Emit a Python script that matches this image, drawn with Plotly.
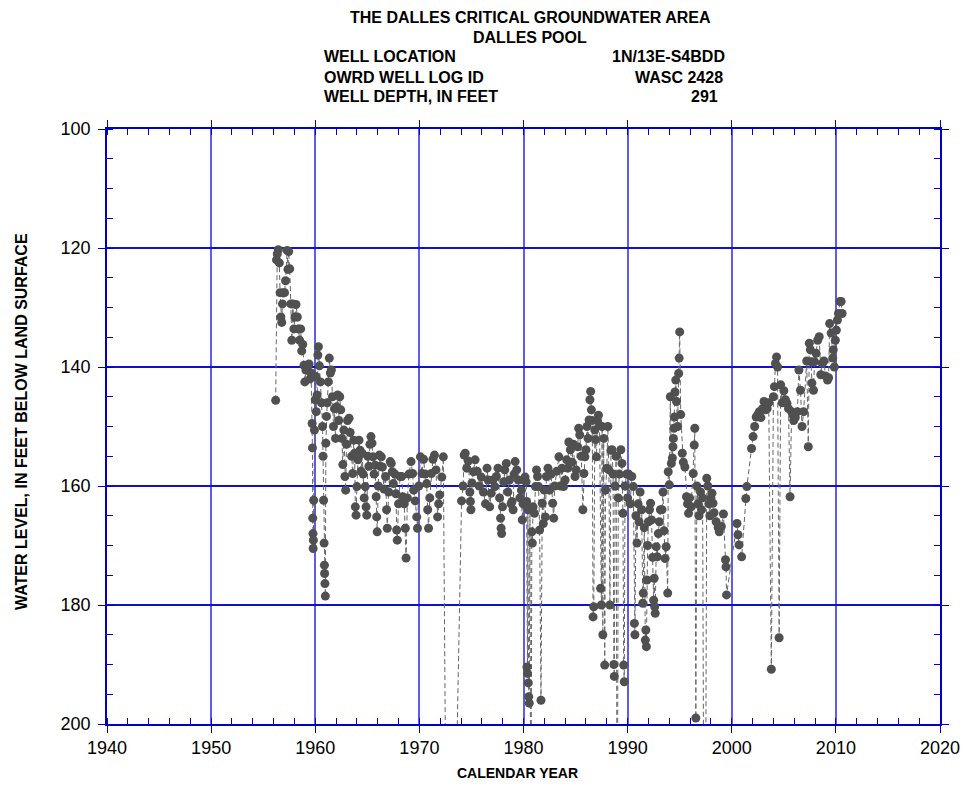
import plotly.graph_objects as go

# ---- data: (calendar year, water level in feet below land surface) ----
obs_1950s = [
    (1956.20,145.6),(1956.28,122.0),(1956.35,121.0),(1956.45,120.3),(1956.55,122.5),(1956.62,127.5),
    (1956.70,131.6),(1956.78,132.5),(1956.85,129.4),(1956.95,127.5),(1957.05,127.5),(1957.15,125.5),
    (1957.30,120.4),(1957.38,123.6),(1957.45,120.6),(1957.55,123.5),(1957.65,129.4),(1957.75,135.5),
    (1957.85,129.4),(1957.95,133.6),(1958.05,131.6),(1958.15,129.5),(1958.28,131.6),(1958.38,133.6),
    (1958.50,135.5),(1958.60,133.6),(1958.70,137.3),(1958.80,136.2),(1958.92,139.7),(1959.00,142.5),
    (1959.10,140.5),(1959.25,140.5),(1959.40,139.5),(1959.50,142.0),(1959.60,141.0),(1959.70,149.5),
    (1959.73,153.6),(1959.76,165.4),(1959.78,168.0),(1959.80,170.5),(1959.82,169.1),(1959.85,162.4),
    (1959.92,150.6),
]
obs_1960s = [
    (1960.00,145.5),(1960.05,141.6),(1960.10,147.5),(1960.18,144.7),(1960.25,138.0),(1960.30,136.6),
    (1960.40,139.8),(1960.50,142.5),(1960.60,146.0),(1960.70,150.0),(1960.75,155.0),(1960.80,162.4),
    (1960.85,169.6),(1960.88,173.3),(1960.90,174.7),(1960.93,176.4),(1960.97,178.5),
    (1961.02,152.8),(1961.08,148.3),(1961.15,146.0),(1961.25,142.5),(1961.35,138.5),(1961.45,141.0),
    (1961.55,140.5),(1961.65,145.0),(1961.75,150.0),(1961.85,147.0),(1961.95,152.0),(1962.05,146.7),
    (1962.15,144.7),(1962.25,149.0),(1962.35,145.0),(1962.45,147.2),(1962.55,152.0),(1962.65,156.4),
    (1962.75,150.6),(1962.85,158.4),(1962.92,160.7),(1963.00,153.0),(1963.10,149.0),(1963.25,148.6),
    (1963.35,151.0),(1963.50,155.0),(1963.60,157.9),(1963.70,152.3),(1963.78,154.5),(1963.85,163.5),
    (1963.92,164.9),(1964.00,160.1),(1964.10,155.6),(1964.20,152.3),(1964.30,154.0),(1964.40,157.5),
    (1964.50,154.5),(1964.60,158.0),(1964.70,162.0),(1964.80,160.1),(1964.88,163.5),(1964.95,164.9),
    (1965.05,155.0),(1965.15,156.7),(1965.25,153.0),(1965.35,151.7),(1965.45,152.8),(1965.55,155.1),
    (1965.65,158.0),(1965.75,156.5),(1965.85,161.8),(1965.90,165.2),(1965.95,167.7),(1966.05,160.0),
    (1966.15,154.8),(1966.25,156.7),(1966.35,155.1),(1966.45,156.8),(1966.60,160.5),(1966.75,158.4),
    (1966.85,164.0),(1966.92,167.1),(1967.05,161.0),(1967.20,155.9),(1967.30,156.2),(1967.40,157.6),
    (1967.50,159.6),(1967.65,158.0),(1967.75,161.3),(1967.82,167.4),(1967.88,169.1),(1968.00,163.0),
    (1968.15,158.4),(1968.30,158.4),(1968.40,161.8),(1968.55,163.0),(1968.65,167.1),(1968.72,172.1),
    (1968.85,162.0),(1969.00,158.0),(1969.20,155.9),(1969.35,157.9),(1969.45,160.7),(1969.60,162.5),
    (1969.75,165.2),(1969.82,167.1),(1969.95,160.0),
]
obs_1970s = [
    (1970.10,155.1),(1970.25,157.9),(1970.40,155.5),(1970.55,158.0),(1970.70,159.6),(1970.80,164.0),
    (1970.88,167.1),(1971.00,162.0),(1971.15,157.9),(1971.30,155.5),(1971.45,154.8),(1971.60,157.3),
    (1971.75,165.2),(1971.85,163.0),(1971.95,161.5),(1972.15,158.5),(1972.30,155.1),(1972.80,278.0),
    (1974.05,162.5),(1974.20,160.0),(1974.30,154.8),(1974.40,154.5),(1974.55,157.0),(1974.70,155.8),
    (1974.85,161.0),(1974.90,162.6),(1974.95,164.0),(1975.05,159.5),(1975.20,157.6),(1975.35,155.6),
    (1975.55,157.5),(1975.75,160.0),(1975.95,158.5),(1976.15,161.0),(1976.35,163.0),(1976.50,157.0),
    (1976.60,159.0),(1976.75,163.5),(1976.90,161.2),(1977.05,159.0),(1977.25,160.1),(1977.40,158.4),
    (1977.55,157.0),(1977.70,162.0),(1977.80,165.4),(1977.85,167.1),(1977.90,168.0),(1977.98,163.5),
    (1978.10,159.3),(1978.20,157.3),(1978.35,156.2),(1978.50,161.0),(1978.65,159.0),(1978.80,163.0),
    (1978.90,162.6),(1979.00,164.0),(1979.10,158.0),(1979.20,155.9),(1979.35,157.3),(1979.50,159.0),
    (1979.65,162.0),(1979.80,160.7),(1979.88,165.7),(1979.95,163.0),
]
obs_1980s = [
    (1980.05,159.0),(1980.15,158.5),(1980.25,159.3),(1980.30,162.6),(1980.33,190.4),(1980.38,191.5),
    (1980.42,164.0),(1980.46,193.1),(1980.50,195.4),(1980.55,196.5),(1980.62,163.8),(1980.70,230.0),
    (1980.80,167.7),(1980.85,169.6),(1980.92,163.5),(1981.05,164.6),(1981.15,160.1),(1981.25,157.3),
    (1981.35,158.4),(1981.45,160.1),(1981.55,167.4),(1981.68,196.0),(1981.80,162.9),(1981.90,166.3),
    (1982.00,160.7),(1982.10,165.2),(1982.20,158.4),(1982.35,157.0),(1982.50,160.7),(1982.65,158.0),
    (1982.80,162.9),(1982.90,165.4),(1983.00,160.0),(1983.20,157.5),(1983.40,155.1),(1983.55,160.0),
    (1983.70,157.0),(1983.85,160.1),(1984.00,159.0),(1984.15,155.6),(1984.25,157.0),(1984.35,152.6),
    (1984.50,153.9),(1984.65,156.0),(1984.80,153.0),(1984.95,158.4),(1985.05,157.3),(1985.20,153.4),
    (1985.30,150.3),(1985.40,151.4),(1985.55,155.0),(1985.70,164.0),(1985.80,157.9),(1985.90,155.1),
    (1986.00,153.9),(1986.10,150.0),(1986.20,152.0),(1986.30,148.9),(1986.38,145.5),(1986.45,144.1),
    (1986.52,147.2),(1986.60,149.0),(1986.68,182.0),(1986.75,180.3),(1986.85,150.6),(1986.92,152.2),
    (1987.00,155.1),(1987.10,149.0),(1987.20,148.1),(1987.30,149.8),(1987.40,177.2),(1987.48,180.0),
    (1987.55,150.0),(1987.62,185.0),(1987.70,152.0),(1987.80,190.1),(1987.88,160.7),(1988.00,157.0),
    (1988.10,150.0),(1988.20,157.3),(1988.30,180.0),(1988.40,154.0),(1988.50,153.9),(1988.60,158.0),
    (1988.68,190.0),(1988.72,192.0),(1988.80,160.0),(1988.90,155.0),(1989.00,235.0),(1989.10,162.0),
    (1989.20,158.0),(1989.35,153.9),(1989.45,156.2),(1989.55,164.6),(1989.62,190.1),(1989.68,192.9),
    (1989.75,160.0),(1989.90,158.0),
]
obs_1990s = [
    (1990.00,162.0),(1990.10,158.0),(1990.25,163.0),(1990.40,158.4),(1990.55,160.1),(1990.65,183.1),
    (1990.70,185.0),(1990.80,165.0),(1990.90,169.6),(1991.00,163.0),(1991.10,166.0),(1991.20,161.0),
    (1991.35,164.0),(1991.45,179.7),(1991.50,178.0),(1991.60,167.0),(1991.70,185.9),(1991.75,184.2),
    (1991.80,187.0),(1991.85,175.8),(1991.92,170.0),(1992.00,166.0),(1992.10,164.0),(1992.20,162.9),
    (1992.30,165.7),(1992.40,172.0),(1992.50,179.2),(1992.55,175.5),(1992.60,180.3),(1992.65,181.4),
    (1992.75,170.2),(1992.85,171.9),(1992.95,168.0),(1993.05,166.0),(1993.15,164.0),(1993.30,164.0),
    (1993.40,161.0),(1993.50,167.5),(1993.60,172.2),(1993.70,170.2),(1993.85,178.0),(1993.90,157.6),
    (1994.00,159.8),(1994.10,145.0),(1994.20,156.2),(1994.30,155.3),(1994.35,153.4),(1994.40,152.0),
    (1994.45,150.3),(1994.50,148.4),(1994.55,144.2),(1994.62,142.2),(1994.70,145.8),(1994.80,150.0),
    (1994.90,141.1),(1994.95,138.5),(1995.00,134.1),(1995.10,148.0),(1995.25,154.5),(1995.35,156.0),
    (1995.50,156.8),(1995.65,161.8),(1995.75,163.0),(1995.85,164.6),(1995.95,162.0),(1996.10,163.5),
    (1996.30,157.9),(1996.40,153.1),(1996.45,150.3),(1996.55,199.0),(1996.65,160.0),(1996.75,163.0),
    (1996.85,165.0),(1997.00,161.0),(1997.10,164.0),(1997.20,162.0),(1997.40,260.0),(1997.60,158.7),
    (1997.70,160.0),(1997.80,163.0),(1997.90,165.0),(1998.00,162.0),(1998.10,161.2),(1998.20,162.9),
    (1998.30,164.5),(1998.50,166.0),(1998.70,167.0),(1998.80,167.7),(1999.00,166.8),(1999.20,164.7),
    (1999.40,172.4),(1999.45,173.6),(1999.50,178.3),
]
obs_2000s = [
    (2000.50,166.3),(2000.60,168.2),(2000.70,169.9),(2000.95,171.9),(2001.35,162.1),(2001.45,160.1),
    (2001.90,153.7),(2002.05,151.7),(2002.20,150.0),(2002.35,148.4),(2002.50,148.0),(2002.65,147.5),
    (2002.80,148.5),(2002.95,147.0),(2003.10,145.8),(2003.25,147.2),(2003.40,147.0),(2003.55,146.0),
    (2003.80,190.8),(2004.00,145.0),(2004.10,143.3),(2004.20,139.4),(2004.30,138.3),(2004.40,140.0),
    (2004.55,185.5),(2004.70,143.0),(2004.85,146.0),(2005.00,144.0),(2005.15,145.5),(2005.30,146.1),
    (2005.45,147.0),(2005.60,161.8),(2005.75,147.5),(2005.85,148.0),(2005.95,149.0),(2006.10,148.5),
    (2006.30,147.5),(2006.45,140.5),(2006.60,143.9),(2006.75,150.0),(2006.90,147.5),(2007.20,139.0),
    (2007.35,153.4),(2007.45,136.0),(2007.55,137.1),(2007.62,139.1),(2007.70,142.7),(2007.85,143.9),
    (2007.95,139.1),(2008.10,137.7),(2008.25,135.5),(2008.40,134.9),(2008.55,141.3),(2008.70,139.4),
    (2008.85,139.0),(2009.00,141.5),(2009.20,142.2),(2009.30,141.8),(2009.40,132.7),(2009.55,134.3),
    (2009.70,138.5),(2009.75,137.1),(2009.85,140.0),(2009.95,135.5),(2010.05,133.8),(2010.15,132.1),
    (2010.25,131.0),(2010.40,129.0),(2010.50,129.0),(2010.60,131.0),
]

x_ticks = [1940, 1950, 1960, 1970, 1980, 1990, 2000, 2010, 2020]
y_ticks = [100, 120, 140, 160, 180, 200]

header_left = ["WELL LOCATION", "OWRD WELL LOG ID", "WELL DEPTH, IN FEET"]
header_right = ["1N/13E-S4BDD", "WASC 2428", "291"]

obs = obs_1950s + obs_1960s + obs_1970s + obs_1980s + obs_1990s + obs_2000s
years = [p[0] for p in obs]
levels = [p[1] for p in obs]

# ---- layout geometry (pixels) ----
W, H = 965, 788
L, R, T, B = 107, 940, 129, 724


def px2x(px):
    return (px - L) / (R - L)


def py2y(py):
    return (B - py) / (B - T)


BLUE = "#0000cc"
HBLUE = "#1010d0"
VBLUE = "#5c5cf0"
FONT = "Liberation Sans, Arial, sans-serif"

fig = go.Figure()
fig.add_trace(go.Scatter(
    x=years, y=levels, mode="lines+markers",
    line=dict(color="#666666", width=1, dash="5px,3px"),
    marker=dict(size=9, color="#505050", line=dict(width=0)),
    showlegend=False,
))

fig.update_layout(
    width=W, height=H,
    margin=dict(l=L, r=W - R, t=T, b=H - B, pad=0, autoexpand=False),
    paper_bgcolor="white", plot_bgcolor="white",
    font=dict(family=FONT, color="black"),
)

fig.update_xaxes(
    range=[1940, 2020], tickmode="array", tickvals=x_ticks,
    ticktext=[str(v) for v in x_ticks], automargin=False,
    showgrid=True, gridcolor=VBLUE, gridwidth=2,
    showline=True, linecolor=BLUE, linewidth=1.5, mirror="ticks",
    ticks="outside", ticklen=7, tickwidth=1, tickcolor=BLUE,
    minor=dict(dtick=2, tick0=1940, ticks="inside", ticklen=6, tickwidth=1,
               tickcolor=BLUE, showgrid=False),
    tickfont=dict(family=FONT, size=18, color="black"),
    zeroline=False,
)
fig.update_yaxes(
    range=[200, 100], tickmode="array", tickvals=y_ticks,
    ticktext=[str(v) for v in y_ticks], automargin=False,
    showgrid=True, gridcolor=HBLUE, gridwidth=1.5,
    showline=True, linecolor=BLUE, linewidth=1.5, mirror="ticks",
    ticks="outside", ticklen=7, tickwidth=1, tickcolor=BLUE,
    minor=dict(dtick=5, tick0=100, ticks="inside", ticklen=6, tickwidth=1,
               tickcolor=BLUE, showgrid=False),
    tickfont=dict(family=FONT, size=18, color="black"),
    ticklabelstandoff=4,
    zeroline=False,
)

ann = []
ann.append(dict(text="<b>THE DALLES CRITICAL GROUNDWATER AREA</b>", x=px2x(530), y=py2y(17),
                xanchor="center", yanchor="middle"))
ann.append(dict(text="<b>DALLES POOL</b>", x=px2x(530), y=py2y(37),
                xanchor="center", yanchor="middle"))
rows_y = [57, 77, 97]
right_x = [727, 725, 720]
for txt, yy in zip(header_left, rows_y):
    ann.append(dict(text=f"<b>{txt}</b>", x=px2x(322), y=py2y(yy), xanchor="left", yanchor="middle"))
for txt, yy, xx in zip(header_right, rows_y, right_x):
    ann.append(dict(text=f"<b>{txt}</b>", x=px2x(xx), y=py2y(yy), xanchor="right", yanchor="middle"))
ann.append(dict(text="<b>CALENDAR YEAR</b>", x=px2x(517), y=py2y(773),
                xanchor="center", yanchor="middle", font=dict(size=14, family=FONT, color="black")))
ann.append(dict(text="<b>WATER LEVEL, IN FEET BELOW LAND SURFACE</b>", x=px2x(21), y=py2y(422),
                xanchor="center", yanchor="middle", textangle=-90,
                font=dict(size=16, family=FONT, color="black")))

for a in ann:
    a.setdefault("font", dict(size=16, family=FONT, color="black"))
    a.update(xref="paper", yref="paper", showarrow=False)
fig.update_layout(annotations=ann)

fig.write_html("out.html")
